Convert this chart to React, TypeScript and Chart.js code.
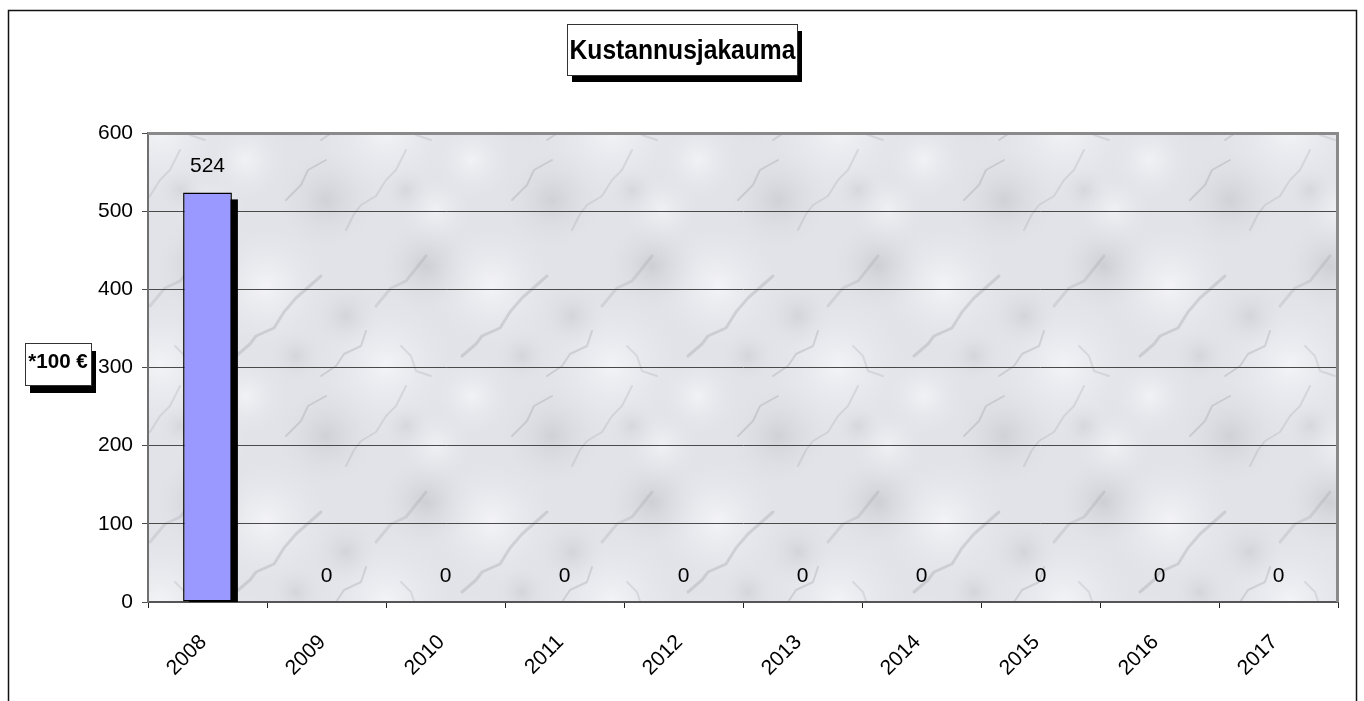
import { useEffect, useRef } from 'react';
import { Chart, registerables } from 'chart.js';

Chart.register(...registerables);

const categories = ['2008', '2009', '2010', '2011', '2012', '2013', '2014', '2015', '2016', '2017'];
const costValues = [524, 0, 0, 0, 0, 0, 0, 0, 0, 0];
const yTickValues = [0, 100, 200, 300, 400, 500, 600];
const chartTitle = 'Kustannusjakauma';
const yAxisTitle = '*100 €';

const FONT = '"Liberation Sans", Arial, sans-serif';

function makeMarble(ctx: CanvasRenderingContext2D): CanvasPattern | string {
  const c = document.createElement('canvas');
  const W = 226;
  const H = 236;
  c.width = W;
  c.height = H;
  const g = c.getContext('2d');
  if (!g) return '#e4e5ea';
  g.fillStyle = '#e2e3e8';
  g.fillRect(0, 0, W, H);
  const blobs: [number, number, number, string][] = [
    [40, 50, 70, 'rgba(250,250,253,0.75)'],
    [160, 130, 80, 'rgba(247,248,251,0.8)'],
    [100, 200, 55, 'rgba(185,187,195,0.45)'],
    [200, 30, 50, 'rgba(180,182,190,0.45)'],
    [20, 160, 45, 'rgba(252,252,255,0.6)'],
    [120, 80, 35, 'rgba(192,194,202,0.45)'],
    [210, 210, 40, 'rgba(250,250,252,0.6)'],
    [70, 120, 28, 'rgba(190,192,200,0.4)'],
    [180, 190, 25, 'rgba(195,196,204,0.4)'],
  ];
  const drawBlob = (x: number, y: number, r: number, col: string) => {
    const grd = g.createRadialGradient(x, y, 0, x, y, r);
    grd.addColorStop(0, col);
    grd.addColorStop(1, 'rgba(226,227,232,0)');
    g.fillStyle = grd;
    g.fillRect(x - r, y - r, r * 2, r * 2);
  };
  for (const [x, y, r, col] of blobs) {
    for (const dx of [-W, 0, W]) {
      for (const dy of [-H, 0, H]) {
        drawBlob(x + dx, y + dy, r, col);
      }
    }
  }
  const veins: [number, number][][] = [
    [[10, 120], [24, 108], [30, 100], [48, 92], [58, 76], [70, 62], [95, 40]],
    [[120, 230], [128, 214], [135, 205], [150, 196], [160, 180], [170, 170], [180, 150]],
    [[60, 200], [75, 185], [82, 170], [100, 160]],
    [[150, 70], [165, 52], [180, 45], [200, 20]],
    [[95, 140], [110, 130], [118, 118], [135, 110], [140, 95]],
    [[175, 110], [185, 120], [190, 135], [205, 140]],
  ];
  g.lineCap = 'round';
  g.lineJoin = 'round';
  for (let i = 0; i < veins.length; i++) {
    const pts = veins[i];
    g.strokeStyle = i % 2 === 0 ? 'rgba(120,122,132,0.22)' : 'rgba(140,142,150,0.2)';
    g.lineWidth = i % 3 === 0 ? 3 : 2;
    g.beginPath();
    g.moveTo(pts[0][0], pts[0][1]);
    for (let k = 1; k < pts.length; k++) g.lineTo(pts[k][0], pts[k][1]);
    g.stroke();
  }
  return ctx.createPattern(c, 'repeat') || '#e4e5ea';
}

const decorPlugin = {
  id: 'decor',
  beforeDraw(chart: any) {
    const { ctx, chartArea } = chart;
    ctx.save();
    ctx.fillStyle = '#ffffff';
    ctx.fillRect(0, 0, chart.width, chart.height);
    ctx.fillStyle = makeMarble(ctx);
    ctx.fillRect(chartArea.left, chartArea.top, chartArea.right - chartArea.left, chartArea.bottom - chartArea.top);
    ctx.restore();
  },
  beforeDatasetsDraw(chart: any) {
    const { ctx, chartArea } = chart;
    ctx.save();
    ctx.strokeStyle = '#8a8a8a';
    ctx.lineWidth = 3;
    ctx.beginPath();
    ctx.moveTo(chartArea.left, chartArea.top + 0.5);
    ctx.lineTo(chartArea.right - 0.5, chartArea.top + 0.5);
    ctx.lineTo(chartArea.right - 0.5, chartArea.bottom);
    ctx.stroke();
    ctx.beginPath();
    ctx.rect(chartArea.left, chartArea.top, chartArea.right - chartArea.left, chartArea.bottom - chartArea.top);
    ctx.clip();
    ctx.fillStyle = '#000000';
    const meta = chart.getDatasetMeta(0);
    meta.data.forEach((el: any) => {
      const h = el.base - el.y;
      if (h <= 0) return;
      ctx.fillRect(el.x - el.width / 2 + 6, el.y + 7, el.width, el.base - el.y);
    });
    ctx.restore();
  },
  afterDatasetsDraw(chart: any) {
    const { ctx } = chart;
    const meta = chart.getDatasetMeta(0);
    ctx.save();
    ctx.fillStyle = '#000000';
    ctx.font = '21px ' + FONT;
    ctx.textAlign = 'center';
    ctx.textBaseline = 'alphabetic';
    meta.data.forEach((el: any, i: number) => {
      ctx.fillText(String(costValues[i]), el.x, el.y - 20);
    });
    ctx.restore();
  },
  afterDraw(chart: any) {
    const { ctx } = chart;
    ctx.save();
    ctx.strokeStyle = '#111111';
    ctx.lineWidth = 1.5;
    ctx.strokeRect(8.5, 10.5, 1348, 720);

    const tb = { x: 567, y: 24, w: 230, h: 51 };
    ctx.fillStyle = '#000000';
    ctx.fillRect(tb.x + 5, tb.y + 7, tb.w, tb.h);
    ctx.fillStyle = '#ffffff';
    ctx.fillRect(tb.x, tb.y, tb.w, tb.h);
    ctx.strokeStyle = '#333333';
    ctx.lineWidth = 1;
    ctx.strokeRect(tb.x + 0.5, tb.y + 0.5, tb.w, tb.h);
    ctx.fillStyle = '#000000';
    ctx.font = 'bold 28px ' + FONT;
    ctx.textAlign = 'center';
    ctx.textBaseline = 'alphabetic';
    ctx.save();
    ctx.translate(tb.x + tb.w / 2 + 0.5, 59);
    ctx.scale(0.88, 1);
    ctx.fillText(chartTitle, 0, 0);
    ctx.restore();

    const yb = { x: 25, y: 343, w: 66, h: 42 };
    ctx.fillStyle = '#000000';
    ctx.fillRect(yb.x + 5, yb.y + 8, yb.w, yb.h);
    ctx.fillStyle = '#ffffff';
    ctx.fillRect(yb.x, yb.y, yb.w, yb.h);
    ctx.strokeStyle = '#333333';
    ctx.strokeRect(yb.x + 0.5, yb.y + 0.5, yb.w, yb.h);
    ctx.fillStyle = '#000000';
    ctx.font = 'bold 21px ' + FONT;
    ctx.textAlign = 'center';
    ctx.save();
    ctx.translate(yb.x + yb.w / 2, 368);
    ctx.scale(0.98, 1);
    ctx.fillText(yAxisTitle, 0, 0);
    ctx.restore();
    ctx.restore();
  },
};

export default function App() {
  const canvasRef = useRef<HTMLCanvasElement | null>(null);

  useEffect(() => {
    document.body.style.margin = '0';
    const canvas = canvasRef.current;
    if (!canvas) return;
    const chart = new Chart(canvas, {
      type: 'bar',
      data: {
        labels: categories,
        datasets: [
          {
            data: costValues,
            backgroundColor: '#9999ff',
            borderColor: '#000000',
            borderWidth: 1.5,
            borderSkipped: false,
            barPercentage: 0.41,
            categoryPercentage: 1,
          },
        ],
      },
      options: {
        responsive: false,
        animation: false,
        devicePixelRatio: 1,
        layout: { padding: { left: 88, right: 26, top: 133, bottom: 0 } },
        plugins: {
          legend: { display: false },
          title: { display: false },
          tooltip: { enabled: false },
        },
        scales: {
          x: {
            type: 'category',
            offset: true,
            afterFit(scale: any) {
              scale.height = 99;
            },
            grid: {
              offset: true,
              drawOnChartArea: false,
              drawTicks: true,
              tickLength: 6,
              color: '#222222',
              lineWidth: 1,
            },
            border: { display: true, color: '#555555', width: 2 },
            ticks: {
              minRotation: 45,
              maxRotation: 45,
              padding: 22,
              labelOffset: -4,
              color: '#000000',
              font: { family: FONT, size: 21 },
            },
          },
          y: {
            min: 0,
            max: 600,
            afterFit(scale: any) {
              scale.width = 60;
            },
            afterBuildTicks(scale: any) {
              scale.ticks = yTickValues.map((v) => ({ value: v }));
            },
            grid: {
              color: '#4a4a4a',
              lineWidth: 1,
              tickLength: 6,
            },
            border: { display: true, color: '#707070', width: 2 },
            ticks: {
              padding: 9,
              color: '#000000',
              font: { family: FONT, size: 21 },
            },
          },
        },
      },
      plugins: [decorPlugin],
    });
    return () => {
      chart.destroy();
    };
  }, []);

  return (
    <div style={{ width: 1364, height: 701, overflow: 'hidden' }}>
      <canvas ref={canvasRef} width={1364} height={701} style={{ display: 'block', width: 1364, height: 701 }} />
    </div>
  );
}
